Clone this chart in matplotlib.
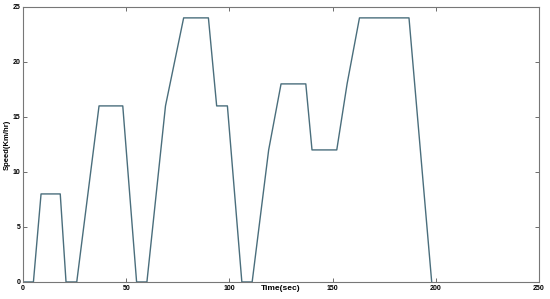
import matplotlib
matplotlib.use("Agg")
import matplotlib.pyplot as plt

# drive cycle
time_s = [0, 5, 8.7, 18, 20.8, 26, 36.8, 48.3, 55, 60, 69, 77.8, 89.8, 93.8, 99, 106,
          111, 119, 125, 137, 140, 152, 157, 163, 187, 198]
speed_kmh = [0, 0, 8, 8, 0, 0, 16, 16, 0, 0, 16, 24, 24, 16, 16, 0,
             0, 12, 18, 18, 12, 12, 18, 24, 24, 0]

x_ticks = [0, 50, 100, 150, 200, 250]
y_ticks = [0, 5, 10, 15, 20, 25]

plt.rcParams["font.family"] = ["Liberation Sans", "DejaVu Sans"]

fig = plt.figure(figsize=(5.5, 2.99), dpi=100)
ax = fig.add_axes([0.042, 0.057, 0.938, 0.92])

ax.plot(time_s, speed_kmh, color="#4a6e7c", linewidth=1.0)

ax.set_xlim(0, 250)
ax.set_ylim(0, 25)
ax.set_xticks(x_ticks)
ax.set_yticks(y_ticks)
ax.tick_params(direction="in", top=True, right=True, length=3, width=0.6,
               color="#555555", labelsize=5, pad=2)
for lab in ax.get_xticklabels() + ax.get_yticklabels():
    lab.set_fontweight("bold")
for s in ax.spines.values():
    s.set_color("#777777")
    s.set_linewidth(0.8)

ax.set_xlabel("Time(sec)", fontsize=6, fontweight="bold", labelpad=-5)
ax.set_ylabel("Speed(Km/hr)", fontsize=5.5, fontweight="bold", labelpad=1)

fig.savefig("out.png", dpi=100)
